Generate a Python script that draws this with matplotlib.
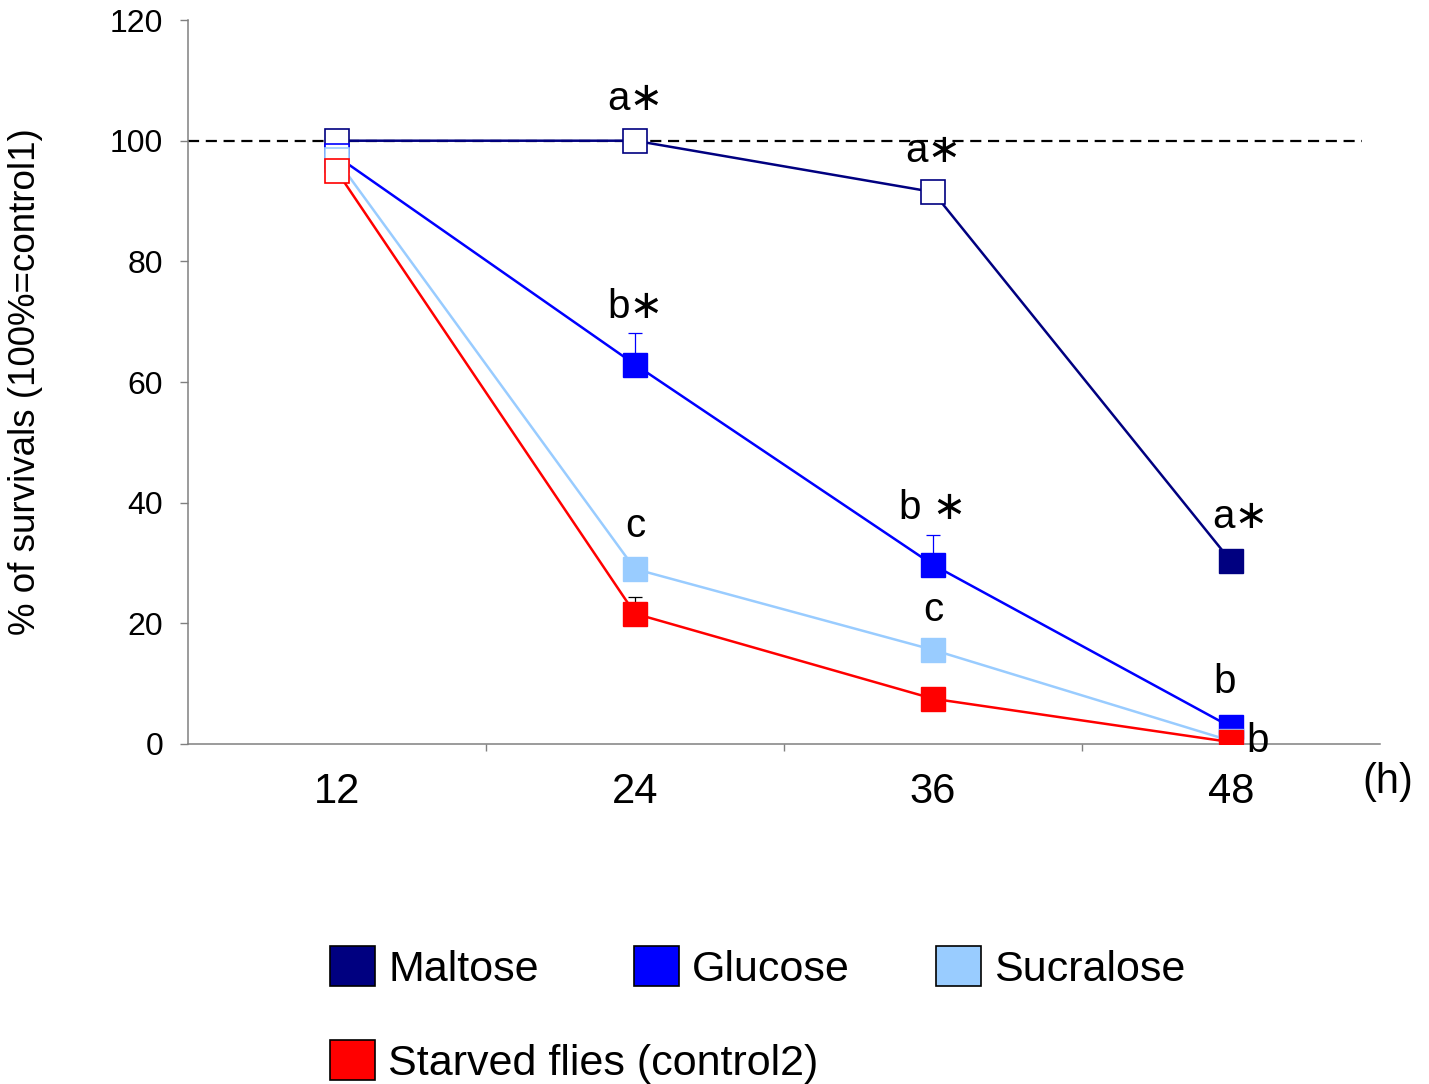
import matplotlib
matplotlib.use("Agg")
import matplotlib.pyplot as plt
from matplotlib.patches import Patch
import numpy as np

plt.rcParams['font.family'] = ['Liberation Sans', 'DejaVu Sans']

# data
hours = ['12', '24', '36', '48']
maltose = [100.0, 100.0, 91.5, 30.3]
glucose = [97.4, 62.9, 29.7, 2.8]
sucralose = [96.8, 29.0, 15.6, 0.5]
starved = [94.9, 21.6, 7.5, 0.3]

glucose_err = [0, 5.3, 5.0, 0]
starved_err = [0, 2.8, 0, 0]

# open (white) markers per point
maltose_open = [True, True, True, False]
glucose_open = [True, False, False, False]
sucralose_open = [True, False, False, False]
starved_open = [True, False, False, False]

labels = ['Maltose', 'Glucose', 'Sucralose', 'Starved flies (control2)']
colors = ['#000080', '#0000FF', '#99CCFF', '#FF0000']

# significance letters: (x index, y baseline, text)
annots = [
    (2, 105.1, 'a\u2217'), (3, 96.5, 'a\u2217'), (4.03, 35.8, 'a\u2217'),
    (2, 70.6, 'b\u2217'), (3, 37.3, 'b \u2217'),
    (2, 34.3, 'c'), (3, 20.4, 'c'),
    (3.98, 8.4, 'b'), (4.09, -1.3, 'b'),
]

fig = plt.figure(figsize=(14.29, 10.84), dpi=100)
ax = fig.add_axes([0.1316, 0.3137, 0.8341, 0.6678])

x = np.arange(1, len(hours) + 1)

series = [maltose, glucose, sucralose, starved]
opens = [maltose_open, glucose_open, sucralose_open, starved_open]
errs = [None, glucose_err, None, starved_err]
err_colors = [None, '#0000FF', None, 'black']

ax.plot([0.5, 4.44], [100, 100], color='black', lw=1.6, ls=(0, (5, 3)), zorder=1)

for i, (vals, op, col) in enumerate(zip(series, opens, colors)):
    z = 2 + i
    if errs[i] is not None:
        e = np.array(errs[i])
        m = e > 0
        ax.errorbar(x[m], np.array(vals)[m], yerr=[np.zeros(m.sum()), e[m]],
                    fmt='none', ecolor=err_colors[i], elinewidth=0.9,
                    capsize=5, capthick=0.9, zorder=z)
    ax.plot(x, vals, color=col, lw=1.8, zorder=z)
    op = np.array(op)
    v = np.array(vals)
    ax.plot(x[~op], v[~op], ls='none', marker='s', ms=17, mfc=col,
            mec=col, mew=1.0, zorder=z)
    ax.plot(x[op], v[op], ls='none', marker='s', ms=17, mfc='white',
            mec=col, mew=1.2, zorder=z)

for xi, yi, t in annots:
    ax.text(xi, yi, t, ha='center', va='baseline', fontsize=29, zorder=10)

ax.set_xlim(0.5, 4.5)
ax.set_ylim(0, 120)
ax.set_yticks(np.arange(0, 121, 20))
ax.set_xticks(x)
ax.set_xticklabels(hours)
ax.set_xticks([1.5, 2.5, 3.5], minor=True)
ax.tick_params(axis='x', which='major', length=0, pad=20, labelsize=30)
ax.tick_params(axis='x', which='minor', length=5, width=1, color='#808080')
ax.tick_params(axis='y', length=6, width=1, color='#808080', pad=12,
               labelsize=23)

for s in ['top', 'right']:
    ax.spines[s].set_visible(False)
for s in ['left', 'bottom']:
    ax.spines[s].set_color('#808080')
    ax.spines[s].set_linewidth(1.1)

ax.set_ylabel('% of survivals (100%=control1)', fontsize=26.5)
ax.yaxis.set_label_coords(-0.1216, 0.5)
ax.text(0.985, -0.0525, '(h)', transform=ax.transAxes, fontsize=30,
        ha='left', va='center')

# legend entries placed one by one (handle left edge, row centre in px)
leg_pos = [(330, 968), (634, 968), (936, 968), (330, 1062)]
W, H = 1429, 1084
for c, lab, (px, py) in zip(colors, labels, leg_pos):
    h = Patch(facecolor=c, edgecolor='black', lw=1.2)
    fig.legend([h], [lab], loc='center left',
               bbox_to_anchor=(px / W, 1 - py / H), frameon=False,
               fontsize=31, handlelength=1.05, handleheight=1.05,
               handletextpad=0.3, borderpad=0, borderaxespad=0)

fig.savefig('out.png', dpi=100)
